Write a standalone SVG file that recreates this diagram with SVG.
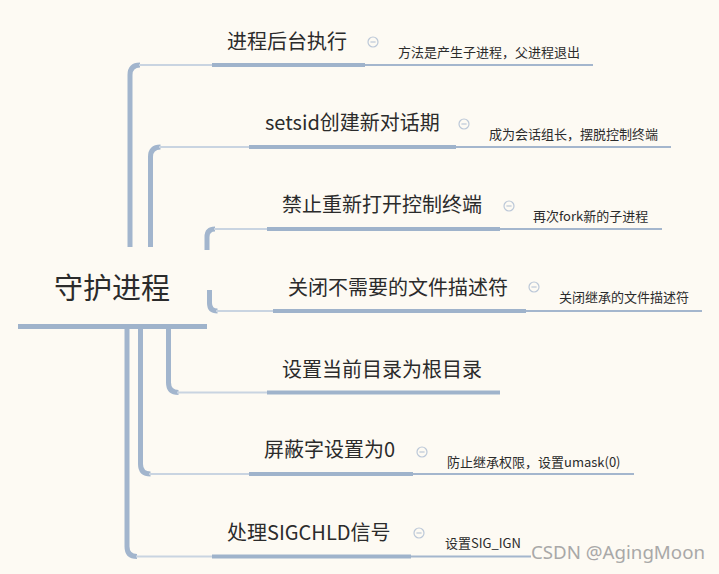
<svg xmlns="http://www.w3.org/2000/svg" width="719" height="574" viewBox="0 0 719 574">
<style>
.t{font-family:"Noto Sans CJK SC","Noto Sans",sans-serif;fill:#2b2b2b}
.main{font-size:20px}
.note{font-size:13px}
.root{font-size:29px}
.ul{stroke:#9fb3cb;stroke-width:4;fill:none}
.nl{stroke:#a4b6cd;stroke-width:2;fill:none}
.cv{stroke:#a2b5cd;stroke-width:5;fill:none}
.ch{stroke:#c9d4e1;stroke-width:2;fill:none}
.ic{fill:none;stroke:#bcc8d8;stroke-width:1.2}
</style>
<defs>
<g id="minus"><circle cx="0" cy="0" r="5" class="ic"/><line x1="-2.6" y1="0" x2="2.6" y2="0" class="ic"/></g>
</defs>
<rect width="719" height="574" fill="#fdfaf3"/>
<g id="connectors">
<path class="cv" d="M130,247 V75 Q130,65 140,65"/><line class="ch" x1="139" y1="65" x2="212" y2="65"/>
<path class="cv" d="M150.5,247 V157 Q150.5,147 160.5,147"/><line class="ch" x1="159" y1="147" x2="249" y2="147"/>
<path class="cv" d="M207,250 V237 Q207,229 215,229"/><line class="ch" x1="214" y1="229" x2="267" y2="229"/>
<path class="cv" d="M209.5,290 V303 Q209.5,311 217.5,311"/><line class="ch" x1="216" y1="311" x2="273" y2="311"/>
<path class="cv" d="M168.5,328 V382.5 Q168.5,392.5 178.5,392.5"/><line class="ch" x1="177" y1="392.5" x2="267" y2="392.5"/>
<path class="cv" d="M140.5,328 V464 Q140.5,474 150.5,474"/><line class="ch" x1="149" y1="474" x2="249" y2="474"/>
<path class="cv" d="M127,328 V546.5 Q127,556.5 137,556.5"/><line class="ch" x1="136" y1="556.5" x2="212" y2="556.5"/>
</g>
<g id="root">
<text class="t root" x="54" y="299">守护进程</text>
<line x1="18" y1="326.5" x2="207" y2="326.5" stroke="#9fb3cb" stroke-width="5"/>
</g>
<g id="n1">
<text class="t main" x="227" y="49">进程后台执行</text>
<line class="ul" x1="212" y1="65" x2="365" y2="65"/>
<use href="#minus" x="373" y="42"/>
<line class="nl" x1="365" y1="65" x2="593" y2="65"/>
<text class="t note" x="398" y="57">方法是产生子进程，父进程退出</text>
</g>
<g id="n2">
<text class="t main" x="265" y="130">setsid创建新对话期</text>
<line class="ul" x1="249" y1="147" x2="456" y2="147"/>
<use href="#minus" x="464" y="124"/>
<line class="nl" x1="456" y1="147" x2="671" y2="147"/>
<text class="t note" x="489" y="139">成为会话组长，摆脱控制终端</text>
</g>
<g id="n3">
<text class="t main" x="282" y="212">禁止重新打开控制终端</text>
<line class="ul" x1="267" y1="229" x2="500" y2="229"/>
<use href="#minus" x="509" y="206"/>
<line class="nl" x1="500" y1="229" x2="662" y2="229"/>
<text class="t note" x="533" y="221">再次fork新的子进程</text>
</g>
<g id="n4">
<text class="t main" x="288" y="295">关闭不需要的文件描述符</text>
<line class="ul" x1="273" y1="311" x2="526" y2="311"/>
<use href="#minus" x="534" y="287"/>
<line class="nl" x1="526" y1="311" x2="702" y2="311"/>
<text class="t note" x="559" y="302">关闭继承的文件描述符</text>
</g>
<g id="n5">
<text class="t main" x="282" y="377">设置当前目录为根目录</text>
<line class="ul" x1="267" y1="392.5" x2="500" y2="392.5"/>
</g>
<g id="n6">
<text class="t main" x="264" y="457">屏蔽字设置为0</text>
<line class="ul" x1="249" y1="474" x2="413" y2="474"/>
<use href="#minus" x="422" y="452"/>
<line class="nl" x1="413" y1="474" x2="634" y2="474"/>
<text class="t note" x="447" y="467">防止继承权限，设置umask(0)</text>
</g>
<g id="n7">
<text class="t main" x="227" y="540">处理SIGCHLD信号</text>
<line class="ul" x1="212" y1="556.5" x2="411" y2="556.5"/>
<use href="#minus" x="419" y="533"/>
<line class="nl" x1="411" y1="556.5" x2="531" y2="556.5"/>
<text class="t note" x="445" y="548">设置SIG_IGN</text>
</g>
<text x="531" y="559" font-family="Noto Sans, sans-serif" font-size="18.7" fill="#a0a0a0" opacity="0.9">CSDN @AgingMoon</text>
</svg>
